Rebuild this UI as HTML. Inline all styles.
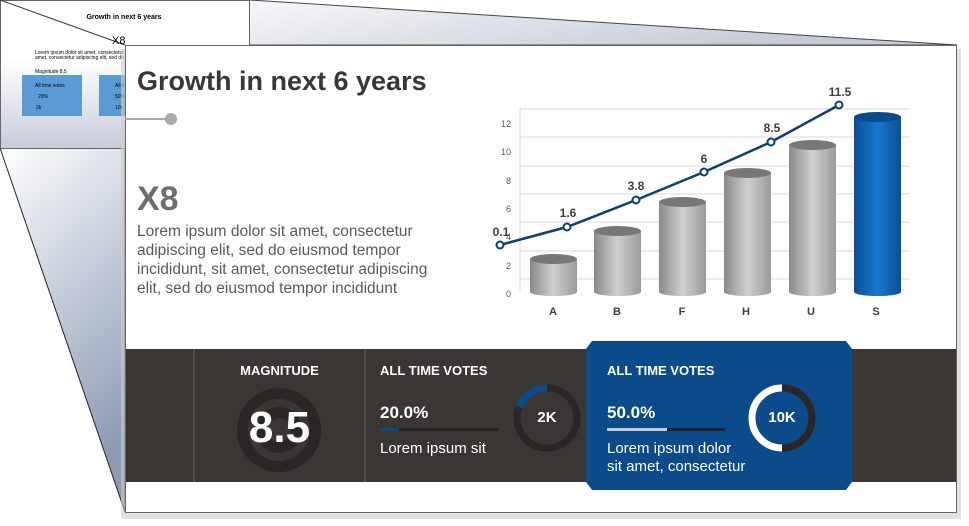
<!DOCTYPE html>
<html><head><style>
body{margin:0;width:969px;height:526px;overflow:hidden;background:#fff;font-family:"Liberation Sans",sans-serif;position:relative}
.a{position:absolute}
</style></head><body>
<svg class="a" style="left:0;top:0" width="969" height="526">
<defs>
<linearGradient id="bg" x1="0" y1="0" x2="0.3" y2="1"><stop offset="0" stop-color="#fff"/><stop offset="1" stop-color="#8d9cb4"/></linearGradient>
<linearGradient id="bg2" x1="0" y1="0" x2="1" y2="0.3"><stop offset="0" stop-color="#fff"/><stop offset="1" stop-color="#c4cad6"/></linearGradient>
<linearGradient id="th" x1="0" y1="0" x2="0" y2="1"><stop offset="0.4" stop-color="#fff"/><stop offset="1" stop-color="#c6ccd8"/></linearGradient>
<linearGradient id="cyl" x1="0" y1="0" x2="1" y2="0"><stop offset="0" stop-color="#8a8a8a"/><stop offset="0.5" stop-color="#cfcfcf"/><stop offset="1" stop-color="#9a9a9a"/></linearGradient>
<linearGradient id="cylb" x1="0" y1="0" x2="1" y2="0"><stop offset="0" stop-color="#0a4f95"/><stop offset="0.5" stop-color="#1a78d0"/><stop offset="1" stop-color="#0a4f95"/></linearGradient>
</defs>
<polygon points="250,0 957,45 125,45" fill="url(#bg2)" stroke="#444"/>
<polygon points="0,148 125,148 125,512" fill="url(#bg)" stroke="#222"/>
<rect x="0.5" y="0.5" width="249" height="148" fill="url(#th)" stroke="#666"/>
<line x1="0" y1="0" x2="125" y2="45" stroke="#333"/>
<text x="124" y="19" font-size="7" font-weight="bold" text-anchor="middle">Growth in next 6 years</text>
<text x="112" y="44" font-size="11">X8</text>
<text x="35" y="54" font-size="5">Lorem ipsum dolor sit amet, consectetur adipiscing elit, sed do eiusmod tempor</text>
<text x="35" y="59" font-size="5">amet, consectetur adipiscing elit, sed do eiusmod tempor</text>
<text x="35" y="73" font-size="5">Magnitude 8.5</text>
<rect x="22" y="75" width="60" height="41" fill="#5b9bd5"/>
<rect x="99" y="75" width="30" height="41" fill="#5b9bd5"/>
<text x="35" y="87" font-size="5">All time votes</text><text x="38" y="98" font-size="5">20%</text><text x="36" y="109" font-size="5">2k</text>
<text x="115" y="87" font-size="5">All time votes</text><text x="115" y="98" font-size="5">50%</text><text x="115" y="109" font-size="5">10k</text>
<rect x="121" y="49" width="840" height="470" fill="#ccc" opacity="0.6"/>
<rect x="125.5" y="45.5" width="831" height="467" fill="#fff" stroke="#666"/>
<line x1="125" y1="119" x2="170" y2="119" stroke="#aaa" stroke-width="2"/>
<circle cx="171" cy="119" r="6" fill="#aaa"/>
<g stroke="#d9d9d9">
<line x1="520" y1="109" x2="910" y2="109"/><line x1="520" y1="137" x2="910" y2="137"/><line x1="520" y1="166" x2="910" y2="166"/><line x1="520" y1="194" x2="910" y2="194"/><line x1="520" y1="222" x2="910" y2="222"/><line x1="520" y1="251" x2="910" y2="251"/><line x1="520" y1="279" x2="910" y2="279"/><line x1="520" y1="107" x2="520" y2="293"/>
</g>
<g font-size="9" fill="#595959" text-anchor="end">
<text x="511" y="297">0</text><text x="511" y="269">2</text><text x="511" y="240">4</text><text x="511" y="212">6</text><text x="511" y="184">8</text><text x="511" y="155">10</text><text x="511" y="127">12</text>
</g>
<g fill="url(#cyl)">
<path d="M530,259 v33 a23.5,4 0 0 0 47,0 v-33z"/><ellipse cx="553.5" cy="259" rx="23.5" ry="5" fill="#777"/>
<path d="M594,231 v61 a23.5,4 0 0 0 47,0 v-61z"/><ellipse cx="617.5" cy="231" rx="23.5" ry="5" fill="#777"/>
<path d="M659,202 v90 a23.5,4 0 0 0 47,0 v-90z"/><ellipse cx="682.5" cy="202" rx="23.5" ry="5" fill="#777"/>
<path d="M724,173 v119 a23.5,4 0 0 0 47,0 v-119z"/><ellipse cx="747.5" cy="173" rx="23.5" ry="5" fill="#777"/>
<path d="M789,145 v147 a23.5,4 0 0 0 47,0 v-147z"/><ellipse cx="812.5" cy="145" rx="23.5" ry="5" fill="#777"/>
<path d="M854,117 v175 a23.5,4 0 0 0 47,0 v-175z" fill="url(#cylb)"/><ellipse cx="877.5" cy="117" rx="23.5" ry="5" fill="#0a4a88"/>
</g>
<polyline points="500,245 567,227 636,200 704,172 771,142 839,105" fill="none" stroke="#0d3f73" stroke-width="2.5"/>
<g fill="#fff" stroke="#0d3f73" stroke-width="2">
<circle cx="500" cy="245" r="3.5"/><circle cx="567" cy="227" r="3.5"/><circle cx="636" cy="200" r="3.5"/><circle cx="704" cy="172" r="3.5"/><circle cx="771" cy="142" r="3.5"/><circle cx="839" cy="105" r="3.5"/>
</g>
<g font-size="12" font-weight="bold" fill="#404040" text-anchor="middle">
<text x="501" y="236">0.1</text><text x="568" y="217">1.6</text><text x="636" y="190">3.8</text><text x="704" y="163">6</text><text x="772" y="132">8.5</text><text x="840" y="96">11.5</text>
</g>
<g font-size="11" font-weight="bold" fill="#404040" text-anchor="middle">
<text x="553" y="315">A</text><text x="617" y="315">B</text><text x="682" y="315">F</text><text x="746" y="315">H</text><text x="811" y="315">U</text><text x="876" y="315">S</text>
</g>
<rect x="126" y="349" width="830" height="133" fill="#3a3634"/>
<line x1="194" y1="349" x2="194" y2="482" stroke="#666"/>
<line x1="365" y1="349" x2="365" y2="482" stroke="#666"/>
<polygon points="592,341 846,341 852,349 852,482 846,490 592,490 586,482 586,349" fill="#0c4b8a"/>
<circle cx="279" cy="430" r="42" fill="#2a2625"/>
<circle cx="279" cy="430" r="31" fill="#3a3634"/>
<circle cx="279" cy="430" r="23" fill="#2a2625"/>
<circle cx="279" cy="430" r="12" fill="#3a3634"/>
<rect x="380" y="428" width="118" height="3" fill="#222"/>
<rect x="380" y="428" width="19" height="3" fill="#0c4b8a"/>
<circle cx="547" cy="418" r="30" fill="none" stroke="#2a2625" stroke-width="7"/>
<path d="M547,388 A30,30 0 0 0 519,407" fill="none" stroke="#0c4b8a" stroke-width="7"/>
<rect x="607" y="428" width="118" height="3" fill="#222"/>
<rect x="607" y="428" width="60" height="3" fill="#ccc"/>
<circle cx="782" cy="418" r="30" fill="none" stroke="#2a2625" stroke-width="7"/>
<path d="M782,388 A30,30 0 0 0 782,448" fill="none" stroke="#fff" stroke-width="7"/>
</svg>
<div class="a" style="left:137px;top:66px;font-size:27px;font-weight:bold;color:#3a3634">Growth in next 6 years</div>
<div class="a" style="left:137px;top:180px;font-size:34px;font-weight:bold;color:#6e6e6e">X8</div>
<div class="a" style="left:137px;top:222px;width:310px;font-size:15.5px;line-height:19px;color:#5a5a5a">Lorem ipsum dolor sit amet, consectetur adipiscing elit, sed do eiusmod tempor incididunt, sit amet, consectetur adipiscing elit, sed do eiusmod tempor incididunt</div>
<div class="a" style="left:194px;width:171px;top:363px;text-align:center;font-size:13px;font-weight:bold;color:#fff">MAGNITUDE</div>
<div class="a" style="left:194px;width:171px;top:403px;text-align:center;font-size:44px;font-weight:bold;color:#fff">8.5</div>
<div class="a" style="left:380px;top:363px;font-size:13px;font-weight:bold;color:#fff">ALL TIME VOTES</div>
<div class="a" style="left:380px;top:403px;font-size:17px;font-weight:bold;color:#fff">20.0%</div>
<div class="a" style="left:380px;top:440px;font-size:15px;color:#fff">Lorem ipsum sit</div>
<div class="a" style="left:517px;width:60px;top:409px;text-align:center;font-size:15px;font-weight:bold;color:#fff">2K</div>
<div class="a" style="left:607px;top:363px;font-size:13px;font-weight:bold;color:#fff">ALL TIME VOTES</div>
<div class="a" style="left:607px;top:403px;font-size:17px;font-weight:bold;color:#fff">50.0%</div>
<div class="a" style="left:607px;top:440px;font-size:15px;line-height:18px;color:#fff">Lorem ipsum dolor<br>sit amet, consectetur</div>
<div class="a" style="left:752px;width:60px;top:409px;text-align:center;font-size:15px;font-weight:bold;color:#fff">10K</div>
</body></html>
